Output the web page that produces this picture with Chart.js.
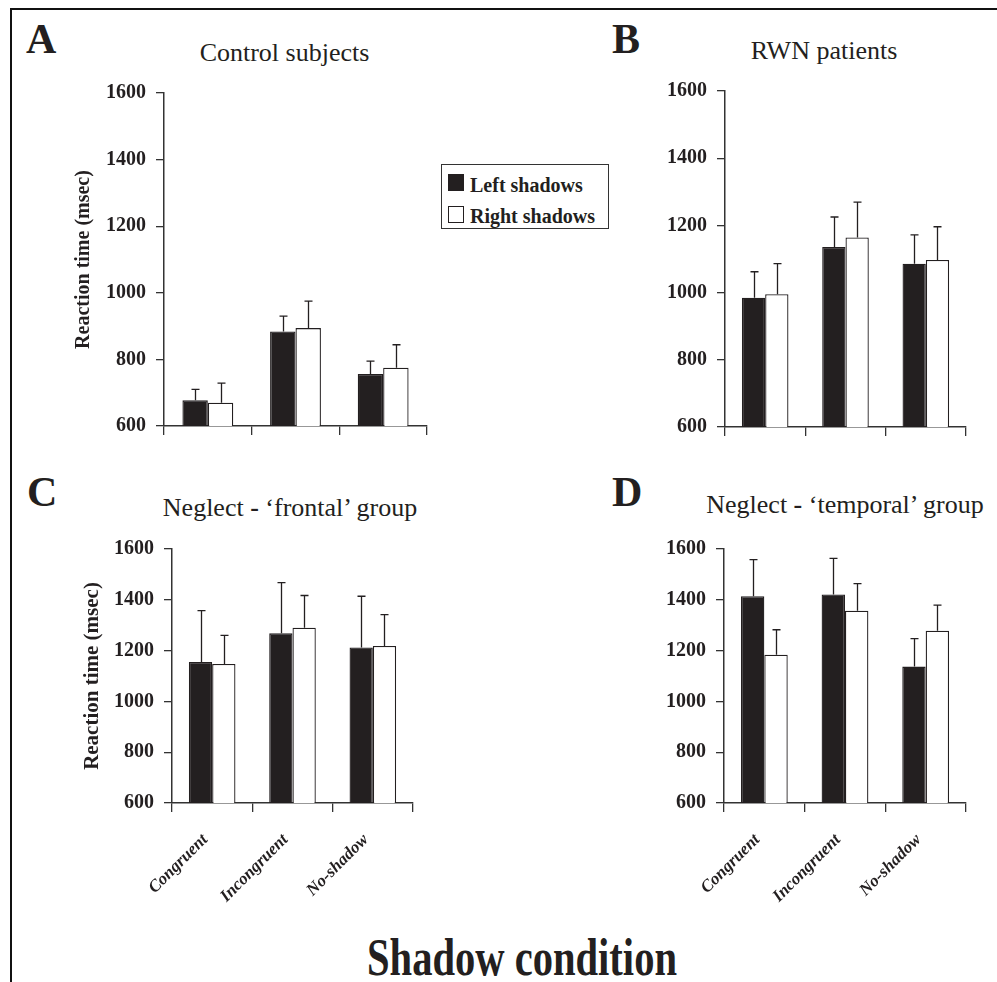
<!DOCTYPE html>
<html><head><meta charset="utf-8">
<script src="https://cdn.jsdelivr.net/npm/chart.js@4/dist/chart.umd.min.js"></script>
<style>
html,body{margin:0;padding:0;background:#fff;}
body{width:997px;height:982px;position:relative;overflow:hidden;font-family:"Liberation Serif","Times New Roman",serif;color:#231f20;}
.frame{position:absolute;left:10px;top:8px;width:1000px;height:1000px;border-top:2.5px solid #111;border-left:2.5px solid #111;}
canvas{position:absolute;}
.txt{position:absolute;white-space:nowrap;line-height:1;}
.legend{position:absolute;left:441px;top:164px;width:166px;height:63px;border:1.5px solid #333;background:#fff;}
.sw{position:absolute;width:14px;height:15px;border:1px solid #231f20;}
</style></head><body>
<div class="frame"></div>
<canvas id="cA"></canvas>
<canvas id="cB"></canvas>
<canvas id="cC"></canvas>
<canvas id="cD"></canvas>
<div class="legend">
  <div class="sw" style="left:6px;top:9px;background:#231f20;"></div>
  <div class="sw" style="left:6px;top:41px;background:#fff;"></div>
  <div class="txt" id="lg1" style="left:28px;font-weight:bold;font-size:20px;">Left shadows</div>
  <div class="txt" id="lg2" style="left:28px;font-weight:bold;font-size:20px;">Right shadows</div>
</div>
<script>
// ---------- data ----------
const categories = ['Congruent', 'Incongruent', 'No-shadow'];
const seriesNames = ['Left shadows', 'Right shadows'];
const yTicks = [600, 800, 1000, 1200, 1400, 1600];

// A: Control subjects
const controlLeft = [677, 884, 756];
const controlLeftErr = [33, 46, 39];
const controlRight = [670, 894, 775];
const controlRightErr = [59, 81, 69];
// B: RWN patients
const rwnLeft = [985, 1136, 1086];
const rwnLeftErr = [77, 89, 86];
const rwnRight = [995, 1164, 1097];
const rwnRightErr = [91, 105, 99];
// C: Neglect - frontal group
const frontalLeft = [1155, 1268, 1212];
const frontalLeftErr = [202, 200, 202];
const frontalRight = [1147, 1290, 1218];
const frontalRightErr = [113, 127, 124];
// D: Neglect - temporal group
const temporalLeft = [1414, 1421, 1137];
const temporalLeftErr = [144, 142, 110];
const temporalRight = [1184, 1357, 1278];
const temporalRightErr = [98, 107, 101];

// ---------- styling ----------
const FONT = '"Liberation Serif", "Times New Roman", serif';
const INK = '#231f20';
const AX = '#333333';

function txt(html, x, baseline, size, weight, align, extra) {
  const d = document.createElement('div');
  d.className = 'txt';
  d.innerHTML = html;
  d.style.fontSize = size + 'px';
  d.style.fontWeight = weight || 'normal';
  d.style.top = (baseline - 0.8375 * size) + 'px';
  d.style.left = x + 'px';
  if (align === 'center') d.style.transform = 'translateX(-50%)' + (extra || '');
  document.body.appendChild(d);
  return d;
}
document.getElementById('lg1').style.top = (191 - 164 - 0.8375 * 20) + 'px';
document.getElementById('lg2').style.top = (221.5 - 164 - 0.8375 * 20) + 'px';

txt('A', 26, 53, 42, 'bold');
txt('B', 612, 53, 42, 'bold');
txt('C', 27, 506, 42, 'bold');
txt('D', 612, 506, 42, 'bold');
txt('Control subjects', 284.5, 62, 26, 'normal', 'center');
txt('RWN patients', 824, 60, 26, 'normal', 'center');
txt('Neglect <b>-</b> ‘frontal’ group', 290, 516.5, 26, 'normal', 'center');
txt('Neglect <b>-</b> ‘temporal’ group', 845, 514, 26, 'normal', 'center');
txt('Shadow condition', 522, 976, 52, 'bold', 'center', ' scaleX(0.78)');

const errorBarPlugin = {
  id: 'errorBars',
  afterDatasetsDraw(chart) {
    const ctx = chart.ctx;
    const ys = chart.scales.y;
    chart.data.datasets.forEach((ds, i) => {
      const meta = chart.getDatasetMeta(i);
      meta.data.forEach((bar, j) => {
        const top = ys.getPixelForValue(ds.data[j] + ds.errors[j]);
        const x = Math.round(bar.x) + 0.5;
        ctx.save();
        ctx.strokeStyle = INK;
        ctx.lineWidth = 1.3;
        ctx.beginPath();
        ctx.moveTo(x, bar.y);
        ctx.lineTo(x, top);
        ctx.moveTo(x - 4, top);
        ctx.lineTo(x + 4, top);
        ctx.stroke();
        ctx.restore();
      });
    });
  }
};

function buildConfig(left, leftErr, right, rightErr, YW, XH, PT, PR, showYTitle, showX, ytitleSize) {
  return {
    type: 'bar',
    data: {
      labels: categories,
      datasets: [
        { label: seriesNames[0], data: left, errors: leftErr, backgroundColor: INK, borderColor: INK, borderWidth: 1.3 },
        { label: seriesNames[1], data: right, errors: rightErr, backgroundColor: '#ffffff', borderColor: INK, borderWidth: 1.3 }
      ]
    },
    options: {
      responsive: false,
      maintainAspectRatio: false,
      animation: false,
      devicePixelRatio: 1,
      categoryPercentage: 0.58,
      barPercentage: 1.0,
      layout: { padding: { top: PT, right: PR, left: 0, bottom: 0 } },
      plugins: { legend: { display: false }, tooltip: { enabled: false }, title: { display: false } },
      scales: {
        x: {
          grid: { display: true, drawOnChartArea: false, drawTicks: true, tickLength: 9, color: AX, lineWidth: 1.3, offset: true },
          border: { display: true, color: AX, width: 1.5 },
          ticks: { display: showX, autoSkip: false, maxRotation: 45, minRotation: 45, padding: 18, labelOffset: -7, color: INK,
                   font: { family: FONT, size: 17, weight: 'bold', style: 'italic' } },
          afterFit: s => { s.height = XH; }
        },
        y: {
          min: 600, max: 1600,
          afterBuildTicks: s => { s.ticks = yTicks.map(v => ({ value: v })); },
          grid: { drawOnChartArea: false, drawTicks: true, tickLength: 8, color: AX, lineWidth: 1.3 },
          border: { display: true, color: AX, width: 1.5 },
          ticks: { padding: 10, color: INK, font: { family: FONT, size: 20, weight: 'bold' }, callback: v => String(v) },
          title: { display: showYTitle, text: 'Reaction time (msec)', color: INK, padding: { top: 0, bottom: 0 },
                   font: { family: FONT, size: ytitleSize || 20, weight: 'bold' } },
          afterFit: s => { s.width = YW; }
        }
      }
    },
    plugins: [errorBarPlugin]
  };
}

function setSize(canvas, W, H) {
  canvas.width = W; canvas.height = H;
  canvas.style.width = W + 'px'; canvas.style.height = H + 'px';
}

function makePanel(id, left, leftErr, right, rightErr, box, showYTitle, showX, ytitleSize) {
  const YW = box.yw, XH = showX ? 120 : 14, PT = 14, PR = 8;
  const canvas = document.getElementById(id);
  let W = YW + (box.x1 - box.x0) + PR;
  let H = PT + (box.yb - box.yt) + XH;
  setSize(canvas, W, H);
  let chart = new Chart(canvas, buildConfig(left, leftErr, right, rightErr, YW, XH, PT, PR, showYTitle, showX, ytitleSize));
  let ca = chart.chartArea;
  const dw = (box.x1 - box.x0) - (ca.right - ca.left);
  const dh = (box.yb - box.yt) - (ca.bottom - ca.top);
  if (Math.abs(dw) > 0.1 || Math.abs(dh) > 0.1) {
    chart.destroy();
    W = Math.round(W + dw); H = Math.round(H + dh);
    setSize(canvas, W, H);
    chart = new Chart(canvas, buildConfig(left, leftErr, right, rightErr, YW, XH, PT, PR, showYTitle, showX, ytitleSize));
    ca = chart.chartArea;
  }
  canvas.style.left = (box.x0 - ca.left) + 'px';
  canvas.style.top = (box.yt - ca.top) + 'px';
  return chart;
}

makePanel('cA', controlLeft, controlLeftErr, controlRight, controlRightErr,
  { x0: 164, x1: 427, yt: 93, yb: 426, yw: 92 }, true, false, 20);
makePanel('cB', rwnLeft, rwnLeftErr, rwnRight, rwnRightErr,
  { x0: 725, x1: 966, yt: 91, yb: 427, yw: 70 }, false, false);
makePanel('cC', frontalLeft, frontalLeftErr, frontalRight, frontalRightErr,
  { x0: 172, x1: 413, yt: 549, yb: 803, yw: 92 }, true, true, 21);
makePanel('cD', temporalLeft, temporalLeftErr, temporalRight, temporalRightErr,
  { x0: 724, x1: 966, yt: 549, yb: 803, yw: 70 }, false, true);
</script>
</body></html>
